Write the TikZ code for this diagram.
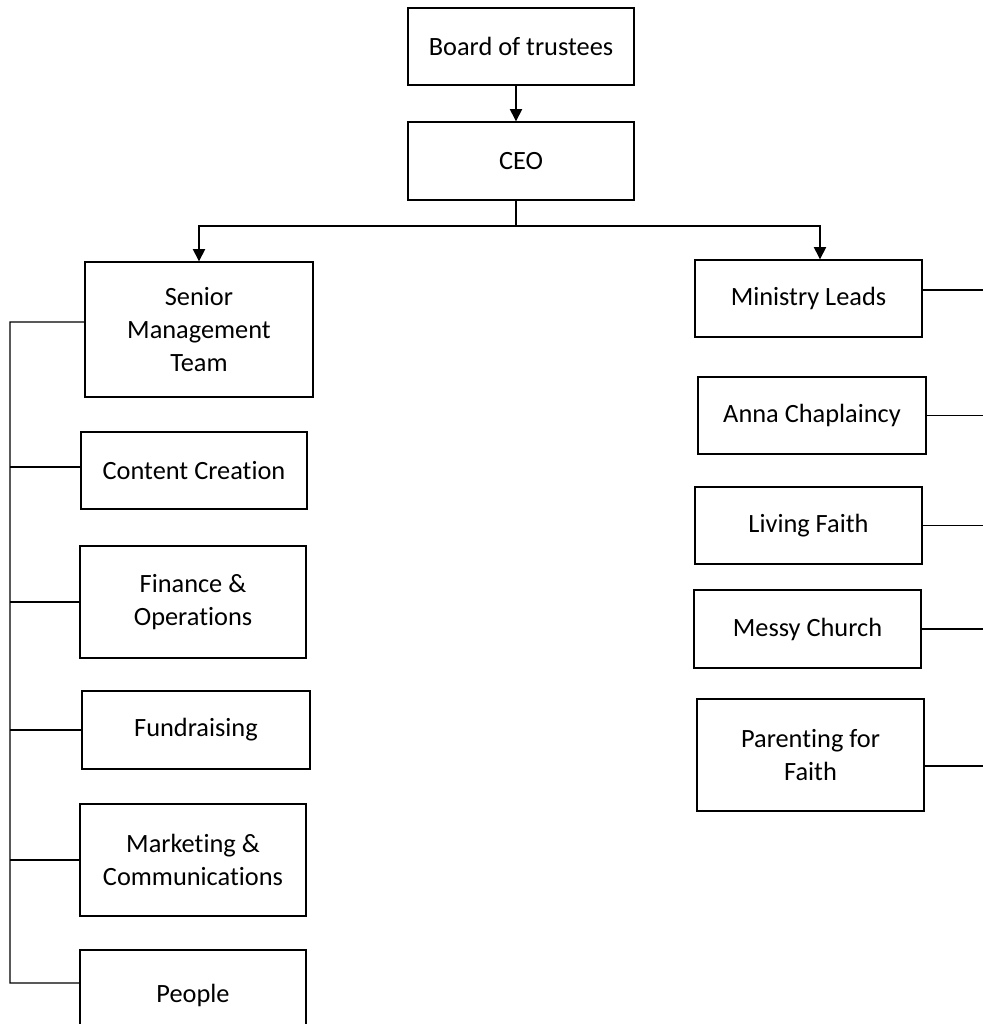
\documentclass[tikz,border=0pt]{standalone}
\usepackage{fontspec}
\setmainfont{Carlito}[Ligatures=NoCommon]
\usetikzlibrary{arrows.meta}

\begin{document}
\begin{tikzpicture}[x=0.02cm, y=-0.02cm, every node/.style={rectangle, draw=black, line width=0.8pt, align=center, inner sep=2pt, font=\fontsize{15}{18.7}\selectfont}]

     \clip (0,0) rectangle (983,1024);
     \useasboundingbox (0,0) rectangle (983,1024);

     % Cabeza del organigrama
     \node[minimum width=4.52cm, minimum height=1.54cm] (board) at (521,46.5) {Board of trustees};
     \node[minimum width=4.52cm, minimum height=1.56cm] (ceo) at (521,161) {CEO};

     % Rama izquierda
     \node[minimum width=4.56cm, minimum height=2.7cm] (smt) at (199,329.5) {Senior\\Management\\Team};
     \node[minimum width=4.52cm, minimum height=1.54cm] (cc) at (194,470.5) {Content Creation};
     \node[minimum width=4.52cm, minimum height=2.24cm] (fin) at (193,602) {Finance \&\\Operations};
     \node[minimum width=4.56cm, minimum height=1.56cm] (fund) at (196,730) {Fundraising};
     \node[minimum width=4.52cm, minimum height=2.24cm] (mark) at (193,860) {Marketing \&\\Communications};
     \node[minimum width=4.52cm, minimum height=1.8cm] (people) at (193,995) {People};

     % Rama derecha
     \node[minimum width=4.54cm, minimum height=1.54cm] (ml) at (808.5,298.5) {Ministry Leads};
     \node[minimum width=4.56cm, minimum height=1.54cm] (anna) at (812,415.5) {Anna Chaplaincy};
     \node[minimum width=4.54cm, minimum height=1.54cm] (lf) at (808.5,525.5) {Living Faith};
     \node[minimum width=4.54cm, minimum height=1.56cm] (messy) at (807.5,629) {Messy Church};
     \node[minimum width=4.54cm, minimum height=2.24cm] (pff) at (810.5,755) {Parenting for\\Faith};

     % Puntos de unión
     \coordinate (bus) at (516,226);
     \coordinate (lbus) at (10,322);
     \coordinate (redge) at (983,0);

     % Flechas desde arriba
     \draw[line width=0.8pt, -{Triangle[width=7pt,length=7pt]}] (board.south -| bus) -- (ceo.north -| bus);
     \draw[line width=0.8pt] (ceo.south -| bus) -- (bus);
     \draw[line width=0.8pt, -{Triangle[width=7pt,length=7pt]}] (bus) -| (smt.north);
     \draw[line width=0.8pt, -{Triangle[width=7pt,length=7pt]}] (bus) -| ([xshift=0.23cm]ml.north);

     % Línea vertical izquierda y ramas
     \draw[line width=0.8pt] ([yshift=0.15cm]smt.west) -- (lbus) -- ([yshift=0.24cm]people.west -| lbus) -- ([yshift=0.24cm]people.west);
     \draw[line width=0.8pt] ([yshift=0.07cm]cc.west) -- ([yshift=0.07cm]cc.west -| lbus);
     \draw[line width=0.8pt] (fin.west) -- (fin.west -| lbus);
     \draw[line width=0.8pt] (fund.west) -- (fund.west -| lbus);
     \draw[line width=0.8pt] (mark.west) -- (mark.west -| lbus);

     % Líneas hacia el borde derecho
     \draw[line width=0.8pt] ([yshift=0.17cm]ml.east) -- ([yshift=0.17cm]ml.east -| redge);
     \draw[line width=0.8pt] (anna.east) -- (anna.east -| redge);
     \draw[line width=0.8pt] (lf.east) -- (lf.east -| redge);
     \draw[line width=0.8pt] (messy.east) -- (messy.east -| redge);
     \draw[line width=0.8pt] ([yshift=-0.22cm]pff.east) -- ([yshift=-0.22cm]pff.east -| redge);

   \end{tikzpicture}
\end{document}
